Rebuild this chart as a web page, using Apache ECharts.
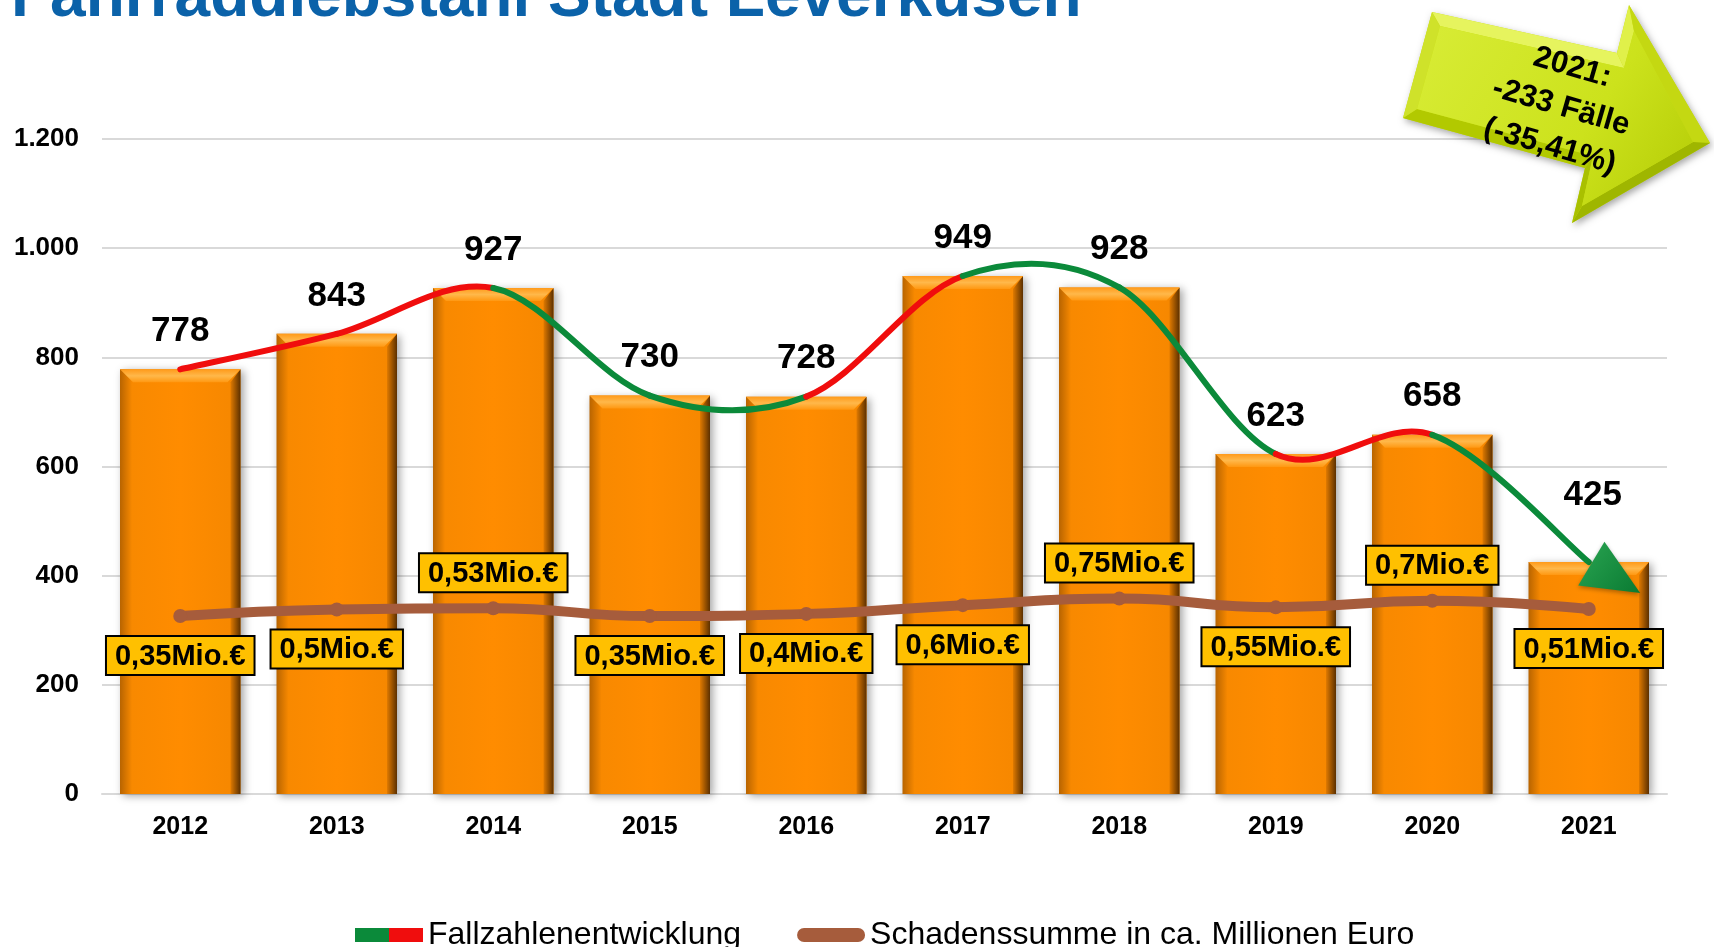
<!DOCTYPE html>
<html>
<head>
<meta charset="utf-8">
<script src="https://cdn.jsdelivr.net/npm/echarts@6/dist/echarts.min.js"></script>
<style>
  html, body { margin: 0; padding: 0; background: #fff; }
  #chart { width: 1714px; height: 947px; }
</style>
</head>
<body>
<div id="chart"></div>
<script>
// Fahrraddiebstahl Leverkusen 2012-2021

const years = ['2012', '2013', '2014', '2015', '2016', '2017', '2018', '2019', '2020', '2021']
const faelle = [778, 843, 927, 730, 728, 949, 928, 623, 658, 425]
const schaden = [0.35, 0.5, 0.53, 0.35, 0.4, 0.6, 0.75, 0.55, 0.7, 0.51]
const schadenOben = ['2014', '2018', '2020'] // Label über der Linie

const FONT = "'Liberation Sans', Arial, sans-serif"
const GREEN = '#0b8a3a'
const RED = '#f00d0d'
const BROWN = '#a65c3c'
const ARROW_DEG = 31 // Richtung der Pfeilspitze am Ende

const myChart = echarts.init(document.getElementById('chart'))

// Säulen mit Abschrägung + Wert darüber
function renderBar (params, api) {
  const idx = api.value(0)
  const val = api.value(1)
  const top = api.coord([idx, val])
  const base = api.coord([idx, 0])
  const w = api.size([1, 0])[0] * 0.77
  const x0 = top[0] - w / 2
  const x1 = top[0] + w / 2
  const y0 = top[1]
  const y1 = base[1]
  const b = 13
  // letzte Säule: Zahl höher wegen Pfeilspitze
  const last = params.dataIndex === faelle.length - 1
  const labelOff = last ? 67 : 38
  return {
    type: 'group',
    children: [
      {
        type: 'rect',
        shape: { x: x0, y: y0, width: w, height: y1 - y0 },
        style: {
          fill: new echarts.graphic.LinearGradient(0, 0, 1, 0, [
            { offset: 0, color: '#b86400' },
            { offset: 0.1, color: '#f88900' },
            { offset: 0.5, color: '#ff8c00' },
            { offset: 1, color: '#f58700' }
          ]),
          shadowBlur: 8,
          shadowColor: 'rgba(0,0,0,0.35)',
          shadowOffsetX: 3,
          shadowOffsetY: 2
        }
      },
      {
        type: 'polygon',
        shape: { points: [[x1, y0], [x1, y1], [x1 - 10, y1], [x1 - 10, y0 + b]] },
        style: {
          fill: new echarts.graphic.LinearGradient(0, 0, 1, 0, [
            { offset: 0, color: '#e07a00' },
            { offset: 1, color: '#5c3000' }
          ])
        }
      },
      {
        type: 'polygon',
        shape: { points: [[x0, y0], [x1, y0], [x1 - b, y0 + b], [x0 + b, y0 + b]] },
        style: {
          fill: new echarts.graphic.LinearGradient(0, 0, 0, 1, [
            { offset: 0, color: '#ff9a1a' },
            { offset: 0.5, color: '#ffb84a' },
            { offset: 1, color: '#ff9812' }
          ])
        }
      },
      {
        type: 'text',
        z2: 50,
        style: {
          text: String(val),
          x: top[0] + (last ? 4 : 0),
          y: y0 - labelOff,
          align: 'center',
          verticalAlign: 'middle',
          fill: '#000',
          font: 'bold 35px ' + FONT
        }
      }
    ]
  }
}

// geglättete Linie, grün wenn es runter geht, rot wenn hoch
function renderTrend (params, api) {
  const i = params.dataIndex
  const n = faelle.length
  const pt = j => {
    const k = Math.max(0, Math.min(n - 1, j))
    return api.coord([k, faelle[k]])
  }
  const children = []
  if (i < n - 1) {
    const p0 = pt(i - 1)
    const p1 = pt(i)
    const p2 = pt(i + 1)
    const p3 = pt(i + 2)
    children.push({
      type: 'bezierCurve',
      shape: {
        x1: p1[0],
        y1: p1[1],
        x2: p2[0],
        y2: p2[1],
        cpx1: p1[0] + (p2[0] - p0[0]) / 6,
        cpy1: p1[1] + (p2[1] - p0[1]) / 6,
        cpx2: p2[0] - (p3[0] - p1[0]) / 6,
        cpy2: p2[1] - (p3[1] - p1[1]) / 6
      },
      style: {
        stroke: faelle[i + 1] < faelle[i] ? GREEN : RED,
        lineWidth: 6,
        lineCap: 'round',
        fill: null
      }
    })
  } else {
    const p = pt(i)
    const a = ARROW_DEG * Math.PI / 180
    const d = [Math.cos(a), Math.sin(a)]
    const q = [-d[1], d[0]]
    const bc = [p[0] + d[0] * 3, p[1] + d[1] * 3]
    const len = 57
    const hw = 25.5
    children.push({
      type: 'polygon',
      shape: {
        points: [
          [bc[0] + q[0] * hw, bc[1] + q[1] * hw],
          [bc[0] - q[0] * hw, bc[1] - q[1] * hw],
          [bc[0] + d[0] * len, bc[1] + d[1] * len]
        ]
      },
      style: {
        fill: new echarts.graphic.LinearGradient(0, 0, 1, 1, [
          { offset: 0, color: '#2aa552' },
          { offset: 1, color: '#0a7a32' }
        ]),
        shadowBlur: 4,
        shadowColor: 'rgba(0,0,0,0.3)',
        shadowOffsetY: 2
      }
    })
  }
  return { type: 'group', children: children }
}

const schadenData = schaden.map((v, i) => {
  const oben = schadenOben.includes(years[i])
  return {
    value: v,
    label: { position: oben ? 'top' : 'bottom', distance: oben ? 10 : 14 }
  }
})

// Pfeil oben rechts (Außen- und Innenkontur für die Abschrägung)
const pfeilAussen = [[1432, 12], [1617, 53], [1629, 5], [1710, 143], [1572, 223], [1585, 168], [1403, 118]]
const pfeilInnen = [[1440, 26], [1624, 68], [1634, 31], [1693, 142], [1582, 206], [1593, 156], [1417, 109]]
const pfeilKanten = ['#e6f45e', '#e0f04a', '#c4d812', '#9fb600', '#a9c000', '#b2c900', '#cfe22a']
const pfeilTeile = pfeilKanten.map((c, k) => {
  const k2 = (k + 1) % pfeilAussen.length
  return {
    type: 'polygon',
    shape: { points: [pfeilAussen[k], pfeilAussen[k2], pfeilInnen[k2], pfeilInnen[k]] },
    style: { fill: c },
    z: 21
  }
})

myChart.setOption({
  animation: false,
  textStyle: { fontFamily: FONT },
  grid: { left: 102, right: 47, top: 139, bottom: 153 },
  graphic: [
    {
      type: 'text',
      left: 11,
      top: -34,
      style: {
        text: 'Fahrraddiebstahl Stadt Leverkusen',
        fill: '#0b62a9',
        font: 'bold 64px ' + FONT
      },
      z: 10
    },
    {
      type: 'polygon',
      shape: { points: pfeilAussen },
      style: {
        fill: '#c8de12',
        shadowBlur: 7,
        shadowColor: 'rgba(0,0,0,0.35)',
        shadowOffsetX: 2,
        shadowOffsetY: 3
      },
      z: 20
    },
    ...pfeilTeile,
    {
      type: 'polygon',
      shape: { points: pfeilInnen },
      style: {
        fill: new echarts.graphic.LinearGradient(0, 0, 1, 1, [
          { offset: 0, color: '#d8ec36' },
          { offset: 0.6, color: '#cce21c' },
          { offset: 1, color: '#b4cc06' }
        ])
      },
      z: 21
    },
    {
      type: 'text',
      x: 1561,
      y: 107,
      rotation: -0.28,
      style: {
        text: '2021:\n-233 Fälle\n(-35,41%)',
        x: 0,
        y: 0,
        align: 'center',
        verticalAlign: 'middle',
        lineHeight: 41,
        fill: '#000',
        font: 'bold 31px ' + FONT
      },
      z: 22
    }
  ],
  legend: {
    left: 350,
    top: 914,
    itemGap: 56,
    itemWidth: 68,
    itemHeight: 14,
    textStyle: { fontSize: 32, color: '#000', fontFamily: FONT },
    data: [
      {
        name: 'Fallzahlenentwicklung',
        icon: 'rect',
        itemStyle: {
          color: new echarts.graphic.LinearGradient(0, 0, 1, 0, [
            { offset: 0, color: GREEN },
            { offset: 0.5, color: GREEN },
            { offset: 0.5, color: RED },
            { offset: 1, color: RED }
          ])
        }
      },
      {
        name: 'Schadenssumme in ca. Millionen Euro',
        icon: 'path://M7,0 H61 A7,7 0 0 1 61,14 H7 A7,7 0 0 1 7,0 Z',
        itemStyle: { color: BROWN }
      }
    ]
  },
  xAxis: {
    type: 'category',
    data: years,
    axisLine: { lineStyle: { color: '#d9d9d9', width: 2 } },
    axisTick: { show: false },
    axisLabel: { color: '#000', fontWeight: 'bold', fontSize: 25, margin: 21 }
  },
  yAxis: [
    {
      type: 'value',
      min: 0,
      max: 1200,
      interval: 200,
      axisLine: { show: false },
      axisTick: { show: false },
      splitLine: { lineStyle: { color: '#d9d9d9', width: 2 } },
      axisLabel: {
        color: '#000',
        fontWeight: 'bold',
        fontSize: 26,
        margin: 23,
        formatter: v => String(v).replace(/\B(?=(\d{3})+(?!\d))/g, '.')
      }
    },
    {
      type: 'value',
      show: false,
      min: -3.725,
      max: 11.275,
      splitLine: { show: false }
    }
  ],
  series: [
    {
      name: 'Fälle',
      type: 'custom',
      renderItem: renderBar,
      data: faelle.map((v, i) => [i, v]),
      encode: { x: 0, y: 1 },
      z: 1
    },
    {
      name: 'Fallzahlenentwicklung',
      type: 'custom',
      renderItem: renderTrend,
      data: faelle.map((v, i) => [i, v]),
      encode: { x: 0, y: 1 },
      itemStyle: { color: GREEN },
      z: 4
    },
    {
      name: 'Schadenssumme in ca. Millionen Euro',
      type: 'line',
      yAxisIndex: 1,
      data: schadenData,
      smooth: true,
      symbol: 'circle',
      symbolSize: 14,
      itemStyle: { color: BROWN },
      lineStyle: { width: 10, color: BROWN, cap: 'round' },
      label: {
        show: true,
        formatter: p => String(p.value).replace('.', ',') + 'Mio.€',
        color: '#000',
        fontSize: 29,
        fontWeight: 'bold',
        backgroundColor: '#ffc000',
        borderColor: '#000',
        borderWidth: 2,
        padding: [5, 8, 3, 8]
      },
      z: 3
    }
  ]
})
</script>
</body>
</html>
